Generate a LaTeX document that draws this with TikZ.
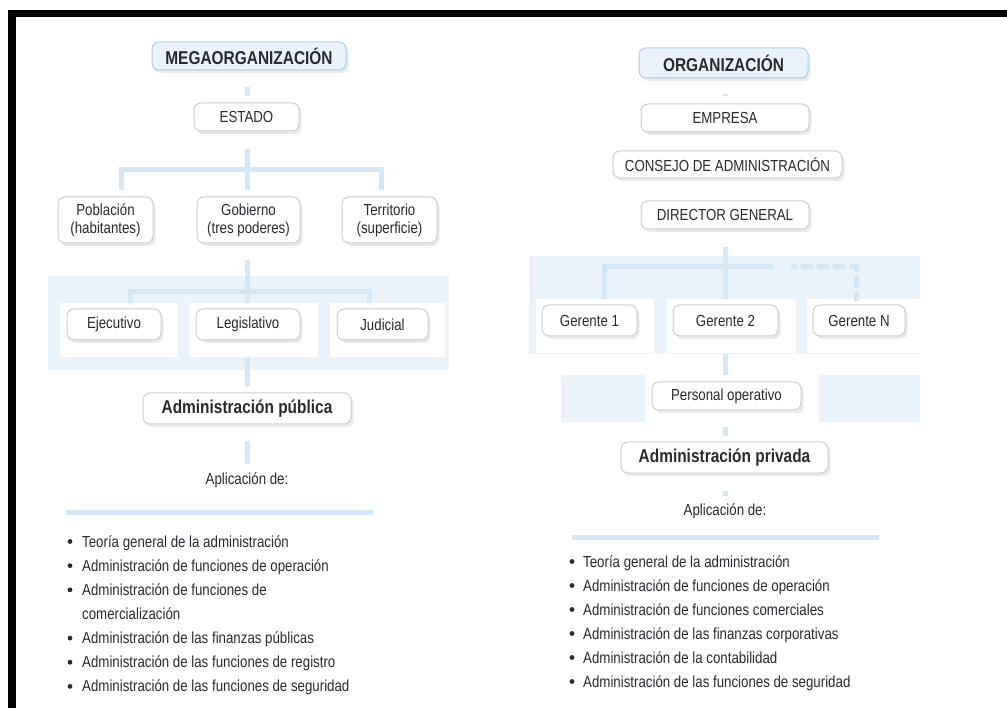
\documentclass[tikz,border=0pt]{standalone}
\usepackage{fontspec}
\setmainfont{Liberation Sans}[FakeStretch=0.83]
\usetikzlibrary{shadows,calc}
\definecolor{lineblue}{HTML}{D4E7F6}
\definecolor{panel}{HTML}{EBF3FA}
\definecolor{titlefill}{HTML}{EAF3FB}
\definecolor{titledraw}{HTML}{A9D0EE}
\definecolor{txt}{HTML}{2A2A30}
\definecolor{boxdraw}{HTML}{CFCFCF}
\tikzset{
  box/.style={draw=boxdraw, line width=1pt, fill=white, rounded corners=7pt, inner sep=0pt, align=center,
    drop shadow={shadow xshift=2.5pt, shadow yshift=-3pt, opacity=0.16}},
  titlebox/.style={box, draw=titledraw, fill=titlefill, font=\bfseries\fontsize{18.6}{20}\selectfont},
  bigbox/.style={box, font=\bfseries\fontsize{18.6}{20}\selectfont},
  conn/.style={draw=lineblue, line width=5pt},
  dconn/.style={conn, dash pattern=on 12pt off 4pt, dash phase=6pt},
  item/.style={anchor=base west, inner sep=0pt},
  bul/.style={fill=txt},
}
\begin{document}
\begin{tikzpicture}[x=1pt,y=-1pt, font=\fontsize{16}{18}\selectfont, text=txt]
\useasboundingbox (0,0) rectangle (1007,708);
\fill[white] (0,0) rectangle (1007,708);
% frame
\fill[black] (8,10) rectangle (1007,17);
\fill[black] (8,10) rectangle (16,708);

% ===== LEFT =====
\fill[panel] (48,276) rectangle (449,370);
\fill[white] (60,303) rectangle (178,357);
\fill[white] (189,303) rectangle (318,357);
\fill[white] (330,303) rectangle (445,357);

\node[titlebox, minimum width=194pt, minimum height=28pt] (mega) at (249,56) {MEGAORGANIZACIÓN};
\node[box, minimum width=105pt, minimum height=28pt] (estado) at (246.5,117) {ESTADO};
\node[box, minimum width=95pt, minimum height=46pt] (poblacion) at (105.5,220) {Población\\(habitantes)};
\node[box, minimum width=103pt, minimum height=46pt] (gobierno) at (248.5,220) {Gobierno\\(tres poderes)};
\node[box, minimum width=95pt, minimum height=46pt] (territorio) at (389.5,220) {Territorio\\(superficie)};
\node[box, minimum width=94pt, minimum height=31pt] (ejecutivo) at (114,324.5) {Ejecutivo};
\node[box, minimum width=104pt, minimum height=31pt] (legislativo) at (248,324.5) {Legislativo};
\node[box, minimum width=91pt, minimum height=31pt] (judicial) at (382.5,324.5) {Judicial};
\node[bigbox, minimum width=208pt, minimum height=31pt] (adminpub) at (247,408.5) {Administración pública};
\node[inner sep=0pt] (aplic1) at (247,480) {Aplicación de:};

% connectors left
\coordinate (lb1) at (247,170);
\coordinate (lp) at (121,190);
\coordinate (lt) at (381,190);
\coordinate (lg) at (247,190);
\draw[conn] ($(lg |- mega.south)+(0,17)$) -- ($(lg |- estado.north)+(0,-6)$);
\draw[conn] ($(lg |- estado.south)+(0,18)$) -- (lg);
\draw[conn] (lp) -- (lp |- lb1) -- (lt |- lb1) -- (lt);
\coordinate (lb2) at (247,292);
\coordinate (le) at (130,303);
\coordinate (lj) at (369,303);
\draw[conn] ($(lb2 |- gobierno.south)+(0,17)$) -- (lb2 |- le);
\draw[conn] (le) -- (le |- lb2) -- (lj |- lb2) -- (lj);
\draw[conn] (247,357) -- ($(lb2 |- adminpub.north)+(0,-6)$);
\draw[conn] ($(lb2 |- adminpub.south)+(0,17)$) -- ($(lb2 |- aplic1.north)+(0,-8)$);
\coordinate (ll1) at (66,512);
\coordinate (ll2) at (373,512);
\draw[conn] (ll1) -- (ll2);

\foreach \t [count=\i] in {Teoría general de la administración,
  Administración de funciones de operación,
  Administración de funciones de,
  comercialización,
  Administración de las finanzas públicas,
  Administración de las funciones de registro,
  Administración de las funciones de seguridad}{
  \pgfmathsetmacro{\yy}{541+24.15*(\i-1)}
  \node[item] (L\i) at (82,\yy+6) {\t};
}
\foreach \yy in {541,565.15,589.3,637.6,661.75,685.9}{
  \fill[bul] (70,\yy+0.5) circle (2.4pt);
}

% ===== RIGHT =====
\fill[panel] (529,256) rectangle (920,354);
\fill[white] (536,299) rectangle (654,353);
\fill[white] (667,299) rectangle (796,353);
\fill[white] (807,299) rectangle (920,353);
\fill[panel] (561,375) rectangle (920,422);
\fill[white] (645,375) rectangle (819,422);

\node[titlebox, minimum width=169pt, minimum height=30pt] (org) at (723.5,63) {ORGANIZACIÓN};
\node[box, minimum width=168pt, minimum height=28pt] (empresa) at (725,118) {EMPRESA};
\node[box, minimum width=229pt, minimum height=27pt] (consejo) at (727.5,164.5) {CONSEJO DE ADMINISTRACIÓN};
\node[box, minimum width=168pt, minimum height=28pt] (director) at (725,215) {DIRECTOR GENERAL};
\node[box, minimum width=95pt, minimum height=31pt] (g1) at (589.5,320.5) {Gerente 1};
\node[box, minimum width=105pt, minimum height=31pt] (g2) at (725.5,320.5) {Gerente 2};
\node[box, minimum width=92pt, minimum height=31pt] (gn) at (859,320.5) {Gerente N};
\node[box, minimum width=149pt, minimum height=28pt] (personal) at (726.5,396) {Personal operativo};
\node[bigbox, minimum width=207pt, minimum height=31pt] (adminpriv) at (724.5,457.5) {Administración privada};
\node[inner sep=0pt] (aplic2) at (725,511) {Aplicación de:};

% connectors right
\coordinate (rb) at (725,267);
\draw[conn] ($(rb |- org.south)+(0,16)$) -- ($(rb |- empresa.north)+(0,-7)$);
\coordinate (r1) at (604,299);
\coordinate (rs) at (773,267);
\coordinate (rd) at (791,267);
\coordinate (rn) at (856,301);
\draw[conn] ($(rb |- director.south)+(0,18)$) -- (rb |- r1);
\draw[conn] (r1) -- (r1 |- rb) -- (rs);
\draw[dconn] (rd) -- (rn |- rd) -- (rn);
\draw[conn] (725,354) -- (725,375);
\draw[conn] ($(rb |- personal.south)+(0,17)$) -- ($(rb |- adminpriv.north)+(0,-5)$);
\draw[conn] ($(rb |- adminpriv.south)+(0,17)$) -- ($(rb |- aplic2.north)+(0,-7)$);
\coordinate (rl1) at (572,537);
\coordinate (rl2) at (879,537);
\draw[conn] (rl1) -- (rl2);

\foreach \t [count=\i] in {Teoría general de la administración,
  Administración de funciones de operación,
  Administración de funciones comerciales,
  Administración de las finanzas corporativas,
  Administración de la contabilidad,
  Administración de las funciones de seguridad}{
  \pgfmathsetmacro{\yy}{561+24*(\i-1)}
  \node[item] (R\i) at (583,\yy+6) {\t};
  \fill[bul] (572,\yy+0.5) circle (2.4pt);
}
\end{tikzpicture}
\end{document}
